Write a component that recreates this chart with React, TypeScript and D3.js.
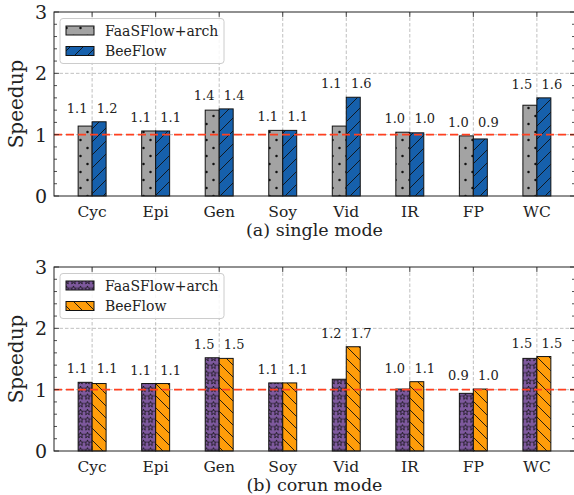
import React from 'react';
import * as d3 from 'd3';

const categories = ['Cyc', 'Epi', 'Gen', 'Soy', 'Vid', 'IR', 'FP', 'WC'];
const singleFaas = [1.14, 1.06, 1.40, 1.07, 1.14, 1.04, 0.98, 1.48];
const singleBee = [1.21, 1.06, 1.42, 1.07, 1.61, 1.03, 0.93, 1.60];
const corunFaas = [1.12, 1.10, 1.52, 1.11, 1.17, 1.01, 0.94, 1.51];
const corunBee = [1.10, 1.10, 1.51, 1.11, 1.70, 1.13, 1.01, 1.54];
const seriesNames = ['FaaSFlow+arch', 'BeeFlow'];
const yTicks = [0, 1, 2, 3];
const captions = ['(a) single mode', '(b) corun mode'];

const W = 574, H = 495;
const LEFT = 54, RIGHT = 575;
const FONT = '"DejaVu Serif", serif';

const starPath = (cx: number, cy: number, r: number) => {
  const pts: string[] = [];
  for (let i = 0; i < 10; i++) {
    const a = -Math.PI / 2 + (i * Math.PI) / 5;
    const rr = i % 2 === 0 ? r : r * 0.42;
    pts.push(`${(cx + rr * Math.cos(a)).toFixed(2)},${(cy + rr * Math.sin(a)).toFixed(2)}`);
  }
  return 'M' + pts.join('L') + 'Z';
};

function Panel({ top, bottom, a, b, fillA, fillB, caption }: any) {
  const x = d3.scaleLinear().domain([-0.6, 7.6]).range([LEFT, RIGHT]);
  const y = d3.scaleLinear().domain([0, 3]).range([bottom, top]);
  const bw = 0.22;
  const bwPx = x(bw) - x(0);
  const minor = d3.range(0, 3.0001, 0.2);
  return (
    <g>
      {categories.map((c, i) => (
        <line key={'vg' + i} x1={x(i)} x2={x(i)} y1={top} y2={bottom} stroke="#b0b0b0" strokeWidth={0.8} strokeDasharray="3.5,2" />
      ))}
      {[1, 2].map((v) => (
        <line key={'hg' + v} x1={LEFT} x2={RIGHT} y1={y(v)} y2={y(v)} stroke="#b0b0b0" strokeWidth={0.8} strokeDasharray="3.5,2" />
      ))}
      {categories.map((c, i) => (
        <g key={'b' + i}>
          <rect x={x(i - bw)} y={y(a[i])} width={bwPx} height={y(0) - y(a[i])} fill={fillA} stroke="#111" strokeWidth={1} />
          <rect x={x(i)} y={y(b[i])} width={bwPx} height={y(0) - y(b[i])} fill={fillB} stroke="#111" strokeWidth={1} />
        </g>
      ))}
      <line x1={LEFT} x2={RIGHT} y1={y(1)} y2={y(1)} stroke="#ff4020" strokeWidth={1.8} strokeDasharray="8,4" />
      {categories.map((c, i) => {
        const ly = y(Math.max(a[i], b[i])) - 9;
        return (
          <g key={'l' + i} fontFamily={FONT} fontSize={13} fill="#222" textAnchor="middle">
            <text x={x(i) - 15} y={ly}>{a[i].toFixed(1)}</text>
            <text x={x(i) + 15} y={ly}>{b[i].toFixed(1)}</text>
          </g>
        );
      })}
      <rect x={LEFT} y={top} width={RIGHT - LEFT} height={bottom - top} fill="none" stroke="#222" strokeWidth={1} />
      {minor.map((v, k) => {
        const major = Math.abs(v - Math.round(v)) < 1e-6;
        const len = major ? 5 : 3;
        return (
          <g key={'yt' + k} stroke="#222" strokeWidth={0.8}>
            <line x1={LEFT} x2={LEFT + len} y1={y(v)} y2={y(v)} />
            <line x1={RIGHT} x2={RIGHT - len} y1={y(v)} y2={y(v)} />
          </g>
        );
      })}
      {yTicks.map((v) => (
        <text key={'ytl' + v} x={LEFT - 7} y={y(v) + 7} textAnchor="end" fontFamily={FONT} fontSize={19} fill="#222">{v}</text>
      ))}
      {categories.map((c, i) => (
        <g key={'xt' + i}>
          <line x1={x(i)} x2={x(i)} y1={top} y2={top + 5} stroke="#222" strokeWidth={0.8} />
          <line x1={x(i)} x2={x(i)} y1={bottom} y2={bottom - 5} stroke="#222" strokeWidth={0.8} />
          <text x={x(i)} y={bottom + 21} textAnchor="middle" fontFamily={FONT} fontSize={15.5} fill="#222">{c}</text>
        </g>
      ))}
      <text x={(LEFT + RIGHT) / 2} y={bottom + 39.5} textAnchor="middle" fontFamily={FONT} fontSize={17.5} fill="#222">{caption}</text>
      <text transform={`translate(${23},${(top + bottom) / 2}) rotate(-90)`} textAnchor="middle" fontFamily={FONT} fontSize={20} fill="#222">Speedup</text>
      <g>
        <rect x={60} y={top + 6.5} width={164} height={45} rx={3} fill="white" fillOpacity={0.85} stroke="#cccccc" strokeWidth={1} />
        {[fillA, fillB].map((f, k) => {
          const cy = top + 18.5 + k * 20.5;
          return (
            <g key={'lg' + k}>
              <rect x={66} y={cy - 4.5} width={28} height={9} fill={f} stroke="#111" strokeWidth={1} />
              <text x={105} y={cy + 5} fontFamily={FONT} fontSize={14} fill="#222">{seriesNames[k]}</text>
            </g>
          );
        })}
      </g>
    </g>
  );
}

export default function App() {
  return (
    <svg width={W} height={H} style={{ position: 'absolute', left: 0, top: 0, background: 'white' }}>
      <defs>
        <pattern id="dots" patternUnits="userSpaceOnUse" width={14} height={16}>
          <rect width={14} height={16} fill="#a3a3a3" />
          <circle cx={3.5} cy={4} r={1.25} fill="#111" />
          <circle cx={10.5} cy={12} r={1.25} fill="#111" />
        </pattern>
        <pattern id="fwd" patternUnits="userSpaceOnUse" width={13} height={13}>
          <rect width={13} height={13} fill="#1660ac" />
          <path d="M0,13 L13,0 M-2,2 L2,-2 M11,15 L15,11" stroke="#111" strokeWidth={0.9} />
        </pattern>
        <pattern id="stars" patternUnits="userSpaceOnUse" width={7} height={7.7}>
          <rect width={7} height={7.7} fill="#7e599e" />
          <path d={starPath(3.5, 4.1, 3.1)} fill="none" stroke="#111" strokeWidth={0.8} />
        </pattern>
        <pattern id="back" patternUnits="userSpaceOnUse" width={12} height={12}>
          <rect width={12} height={12} fill="#ff9d0a" />
          <path d="M0,0 L12,12 M-2,10 L2,14 M10,-2 L14,2" stroke="#111" strokeWidth={0.9} />
        </pattern>
      </defs>
      <rect width={W} height={H} fill="white" />
      <Panel top={12} bottom={196} a={singleFaas} b={singleBee} fillA="url(#dots)" fillB="url(#fwd)" caption={captions[0]} />
      <Panel top={267} bottom={451} a={corunFaas} b={corunBee} fillA="url(#stars)" fillB="url(#back)" caption={captions[1]} />
    </svg>
  );
}
